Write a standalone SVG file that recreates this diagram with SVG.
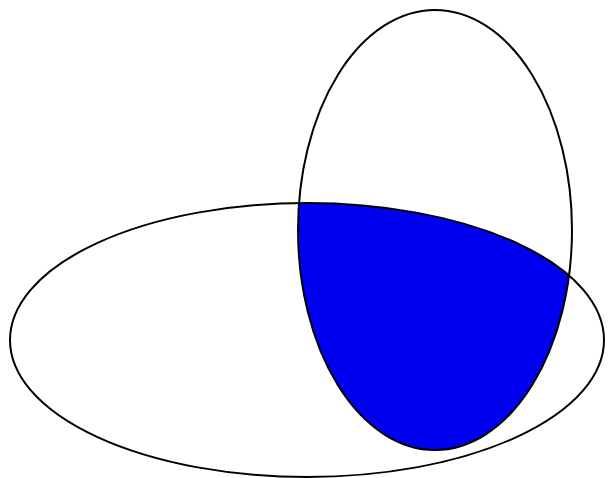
<svg xmlns="http://www.w3.org/2000/svg" width="608" height="478" viewBox="0 0 608 478">
<style>.e{fill:none;stroke:#000;stroke-width:2}</style>
<defs><clipPath id="c"><ellipse cx="307" cy="340" rx="297" ry="137"/></clipPath></defs>
<rect width="608" height="478" fill="#fff"/>
<g id="intersection"><ellipse cx="435" cy="230" rx="137" ry="220" fill="#0000f0" clip-path="url(#c)"/></g>
<g id="horizontal"><ellipse class="e" cx="307" cy="340" rx="297" ry="137"/></g>
<g id="vertical"><ellipse class="e" cx="435" cy="230" rx="137" ry="220"/></g>
</svg>
